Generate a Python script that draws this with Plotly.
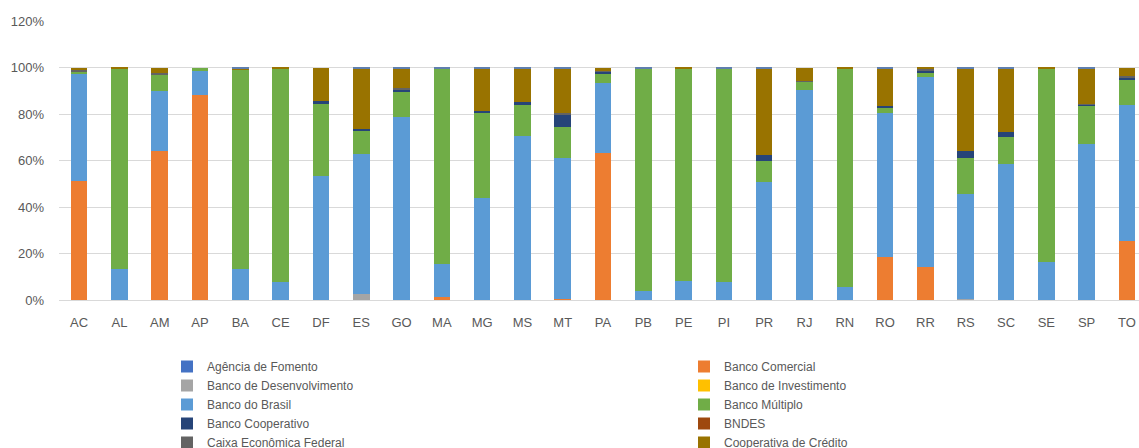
import plotly.graph_objects as go

estados = ["AC", "AL", "AM", "AP", "BA", "CE", "DF", "ES", "GO", "MA", "MG", "MS", "MT",
           "PA", "PB", "PE", "PI", "PR", "RJ", "RN", "RO", "RR", "RS", "SC", "SE", "SP", "TO"]

# shares (fractions) per state
agencia_fomento = [0] * 27
banco_comercial = [0.511, 0, 0.641, 0.881, 0, 0, 0, 0, 0, 0.011, 0, 0, 0.006,
                   0.633, 0, 0, 0, 0, 0, 0, 0.184, 0.141, 0, 0, 0, 0, 0.254]
banco_desenvolvimento = [0, 0, 0, 0, 0, 0, 0, 0.027, 0, 0, 0, 0, 0,
                         0, 0, 0, 0, 0, 0, 0, 0, 0, 0.006, 0, 0, 0, 0]
banco_investimento = [0] * 27
banco_do_brasil = [0.463, 0.134, 0.257, 0.103, 0.134, 0.078, 0.534, 0.603, 0.789, 0.145, 0.440, 0.704, 0.605,
                   0.300, 0.037, 0.080, 0.078, 0.507, 0.904, 0.056, 0.622, 0.817, 0.448, 0.584, 0.165, 0.673, 0.583]
banco_multiplo = [0.005, 0.863, 0.074, 0.016, 0.856, 0.919, 0.307, 0.099, 0.105, 0.839, 0.366, 0.133, 0.135,
                  0.043, 0.959, 0.914, 0.918, 0.091, 0.037, 0.941, 0.020, 0.021, 0.157, 0.117, 0.832, 0.163, 0.112]
banco_cooperativo = [0, 0, 0, 0, 0, 0, 0.013, 0.008, 0.012, 0, 0.008, 0.014, 0.051,
                     0.005, 0, 0, 0, 0.025, 0, 0, 0.009, 0.004, 0.032, 0.022, 0, 0.004, 0.006]
bndes = [0] * 27
caixa = [0.009, 0, 0.006, 0, 0, 0, 0, 0, 0.008, 0, 0, 0, 0.006,
         0.004, 0, 0, 0, 0, 0.003, 0, 0, 0.012, 0, 0, 0, 0.004, 0.008]
cooperativa_credito = [0.012, 0.003, 0.022, 0, 0.006, 0.003, 0.146, 0.260, 0.083, 0, 0.183, 0.146, 0.194,
                       0.015, 0, 0.006, 0, 0.373, 0.056, 0.003, 0.162, 0.005, 0.354, 0.274, 0.003, 0.153, 0.037]
outros = [0, 0, 0, 0, 0.004, 0, 0, 0.003, 0.003, 0.005, 0.003, 0.003, 0.003,
          0, 0.004, 0, 0.004, 0.004, 0, 0, 0.003, 0, 0.003, 0.003, 0, 0.003, 0]

series = [
    ("Agência de Fomento", agencia_fomento, "#4472C4"),
    ("Banco Comercial", banco_comercial, "#ED7D31"),
    ("Banco de Desenvolvimento", banco_desenvolvimento, "#A5A5A5"),
    ("Banco de Investimento", banco_investimento, "#FFC000"),
    ("Banco do Brasil", banco_do_brasil, "#5B9BD5"),
    ("Banco Múltiplo", banco_multiplo, "#70AD47"),
    ("Banco Cooperativo", banco_cooperativo, "#264478"),
    ("BNDES", bndes, "#9E480E"),
    ("Caixa Econômica Federal", caixa, "#636363"),
    ("Cooperativa de Crédito", cooperativa_credito, "#997300"),
]

FONT = "Liberation Sans, Arial, sans-serif"
fig = go.Figure()
for name, vals, color in series:
    fig.add_trace(go.Bar(x=estados, y=vals, name=name, marker=dict(color=color, line=dict(width=0)),
                         width=0.41))
fig.add_trace(go.Bar(x=estados, y=outros, name="Outros", showlegend=False,
                     marker=dict(color="#5F7FAE", line=dict(width=0)), width=0.41))

fig.update_layout(
    width=1139, height=448,
    barmode="stack",
    plot_bgcolor="white", paper_bgcolor="white",
    margin=dict(l=59, r=0, t=21, b=148, autoexpand=False),
    font=dict(family=FONT, size=13, color="#595959"),
    showlegend=True,
    legend=dict(orientation="h", x=0.1, xanchor="left", yref="container", y=1 - 352 / 448,
                yanchor="top", entrywidth=472, entrywidthmode="pixels",
                font=dict(family=FONT, size=12, color="#595959"), traceorder="normal"),
    bargap=0.59,
)
fig.update_xaxes(range=[-0.5, 26.3], showgrid=False, showline=True, linecolor="#D9D9D9",
                 linewidth=1, ticks="", ticklabelstandoff=10,
                 tickfont=dict(family=FONT, size=13, color="#595959"))
fig.update_yaxes(range=[0, 1.2], dtick=0.2, tickformat=".0%", showgrid=True, gridcolor="#D9D9D9",
                 gridwidth=1, zeroline=False, ticks="", ticklabelstandoff=14,
                 tickfont=dict(family=FONT, size=13, color="#595959"))

fig.write_html("out.html")
